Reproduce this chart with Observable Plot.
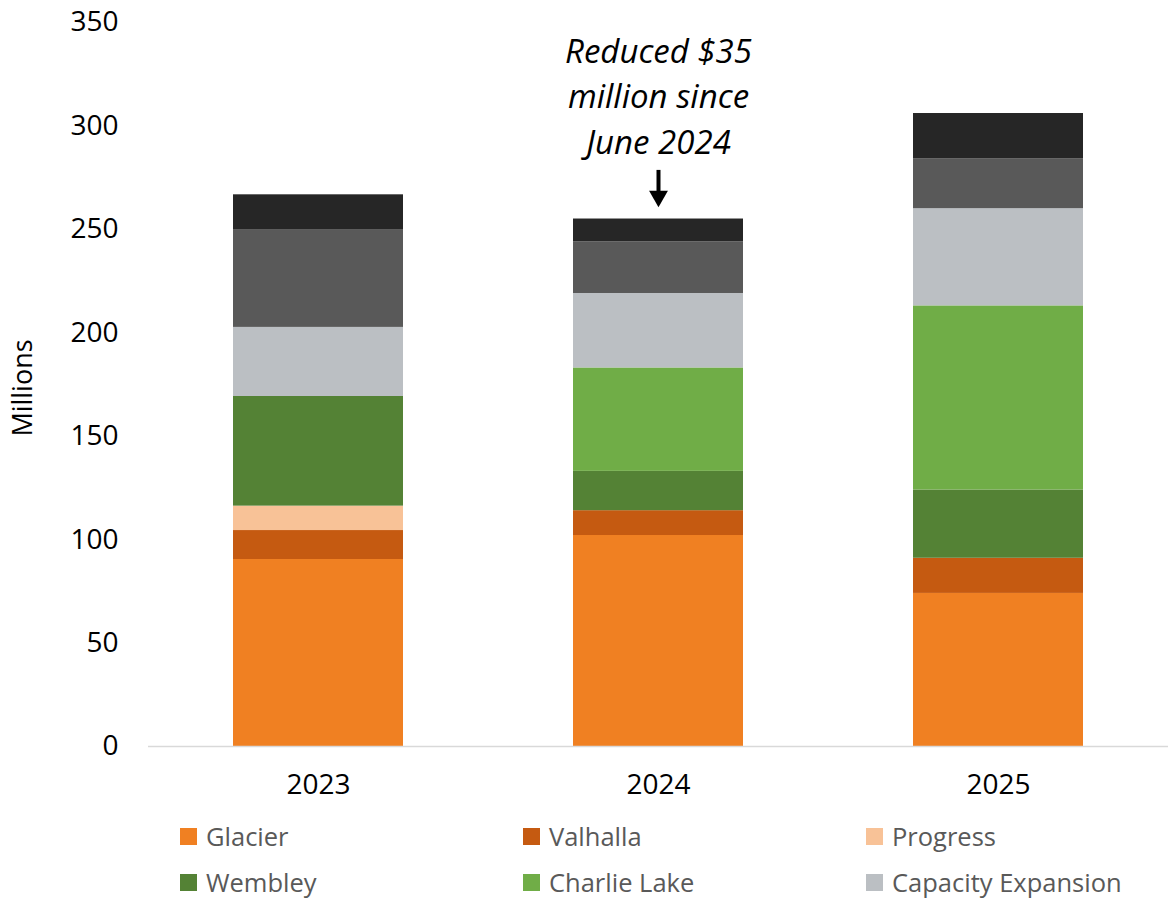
<!DOCTYPE html>
<html>
<head>
<meta charset="utf-8">
<script src="https://cdn.jsdelivr.net/npm/d3@7"></script>
<script src="https://cdn.jsdelivr.net/npm/@observablehq/plot@0.6"></script>
<style>
  html, body { margin: 0; padding: 0; background: #fff; }
  #wrap { position: relative; width: 1168px; height: 898px; font-family: "Open Sans", sans-serif; }
  #legend { position: absolute; left: 0; top: 0; width: 1168px; height: 898px; pointer-events: none; }
  .item { position: absolute; display: flex; align-items: center; font-size: 25.5px; color: #595959; white-space: nowrap; }
  .sw { width: 17px; height: 17px; margin-right: 9px; }
</style>
</head>
<body>
<div id="wrap"><div id="chart"></div><div id="legend"></div></div>
<script>
const years = ["2023", "2024", "2025"];
const seriesNames = ["Glacier", "Valhalla", "Progress", "Wembley", "Charlie Lake", "Capacity Expansion", "Other", "Corporate"];
const seriesColors = ["#F08022", "#C55A11", "#F8C297", "#548235", "#70AD47", "#BBBFC3", "#595959", "#262626"];
const legendNames = ["Glacier", "Valhalla", "Progress", "Wembley", "Charlie Lake", "Capacity Expansion"];

const glacier = [90.4, 102, 74];
const valhalla = [14, 12, 17];
const progress = [11.8, 0, 0];
const wembley = [53, 19, 33];
const charlieLake = [0, 50, 89];
const capacityExpansion = [33.4, 36, 47];
const other = [47.3, 25, 24];
const corporate = [16.8, 11, 22];

const yTicks = [0, 50, 100, 150, 200, 250, 300, 350];
const annotation = "Reduced $35\nmillion since\nJune 2024";
const annotationYear = "2024";

const seriesValues = [glacier, valhalla, progress, wembley, charlieLake, capacityExpansion, other, corporate];
const data = [];
seriesNames.forEach((s, i) => years.forEach((y, j) => data.push({year: y, series: s, value: seriesValues[i][j]})));

const chart = Plot.plot({
  width: 1168,
  height: 810,
  marginLeft: 148,
  marginRight: 0,
  marginTop: 22,
  marginBottom: 64,
  style: {fontFamily: "Open Sans, sans-serif", fontSize: "28px", color: "#000", background: "#fff"},
  x: {domain: years, paddingInner: 0.5, paddingOuter: 0.25, label: null, tickSize: 0, tickPadding: 28},
  y: {domain: [0, 350], ticks: yTicks, label: null, tickSize: 0, tickPadding: 30},
  color: {domain: seriesNames, range: seriesColors},
  marks: [
    Plot.barY(data, {x: "year", y: "value", fill: "series", order: seriesNames}),
    Plot.ruleY([0], {stroke: "#d9d9d9", strokeWidth: 1.5}),
    Plot.text([annotation], {x: () => annotationYear, y: () => 315.5, text: d => d, fontSize: 33, fontStyle: "italic", lineHeight: 1.38, fill: "#000"}),
    Plot.ruleX([annotationYear], {x: d => d, y1: () => 278.5, y2: () => 268, stroke: "#000", strokeWidth: 4}),
    Plot.dot([annotationYear], {x: d => d, y: () => 266, symbol: "triangle", r: 7, fill: "#000", rotate: 180})
  ]
});
document.getElementById("chart").appendChild(chart);

const svg = d3.select(chart);
svg.append("text")
  .attr("transform", "translate(25,388) rotate(-90)")
  .attr("text-anchor", "middle")
  .attr("dominant-baseline", "middle")
  .attr("font-size", 27)
  .attr("font-family", "Open Sans, sans-serif")
  .attr("fill", "#000")
  .text("Millions");

const legend = document.getElementById("legend");
const colX = [180, 523, 866];
const rowY = [836, 882];
legendNames.forEach((name, i) => {
  const el = document.createElement("div");
  el.className = "item";
  el.style.left = colX[i % 3] + "px";
  el.style.top = (rowY[Math.floor(i / 3)] - 18) + "px";
  el.style.height = "36px";
  const sw = document.createElement("span");
  sw.className = "sw";
  sw.style.background = seriesColors[seriesNames.indexOf(name)];
  el.appendChild(sw);
  el.appendChild(document.createTextNode(name));
  legend.appendChild(el);
});
</script>
</body>
</html>
